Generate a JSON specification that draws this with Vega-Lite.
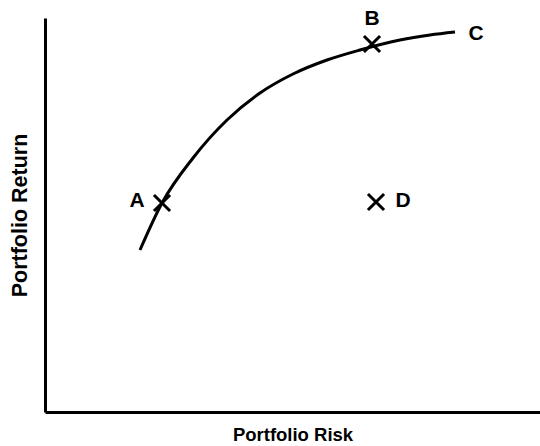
{
  "$schema": "https://vega.github.io/schema/vega-lite/v6.json",
  "width": 495,
  "height": 394,
  "autosize": {"type": "none"},
  "padding": {"left": 45, "top": 18, "right": 0, "bottom": 34},
  "background": "white",
  "config": {
    "view": {"stroke": null},
    "font": "Liberation Sans",
    "axis": {
      "domainColor": "black",
      "domainWidth": 3,
      "ticks": false,
      "labels": false,
      "grid": false,
      "titleFont": "Liberation Sans",
      "titleFontWeight": "bold",
      "titleColor": "black"
    }
  },
  "datasets": {
    "curve": [
      {"x": 95, "y": 162}, {"x": 117, "y": 209}, {"x": 148, "y": 254},
      {"x": 182, "y": 292}, {"x": 215, "y": 319}, {"x": 248, "y": 338},
      {"x": 282, "y": 352}, {"x": 315, "y": 362}, {"x": 355, "y": 372},
      {"x": 385, "y": 377}, {"x": 410, "y": 380}
    ],
    "points": [
      {"name": "A", "x": 117, "y": 209},
      {"name": "B", "x": 327, "y": 368},
      {"name": "D", "x": 331, "y": 210}
    ],
    "labels": [
      {"name": "A", "x": 92, "y": 211},
      {"name": "B", "x": 327, "y": 393},
      {"name": "C", "x": 431, "y": 378},
      {"name": "D", "x": 358, "y": 211}
    ]
  },
  "layer": [
    {
      "data": {"name": "curve"},
      "mark": {"type": "line", "color": "black", "strokeWidth": 3, "interpolate": "monotone"},
      "encoding": {
        "x": {"field": "x", "type": "quantitative", "scale": {"domain": [0, 495], "nice": false, "zero": false}, "axis": {"title": "Portfolio Risk", "titlePadding": 13, "titleFontSize": 18.5}},
        "y": {"field": "y", "type": "quantitative", "scale": {"domain": [0, 394], "nice": false, "zero": false}, "axis": {"title": "Portfolio Return", "titlePadding": 14, "titleFontSize": 21.5}}
      }
    },
    {
      "data": {"name": "points"},
      "mark": {"type": "point", "shape": "M-1,-1L1,1M-1,1L1,-1", "filled": false, "stroke": "black", "strokeWidth": 3, "size": 260, "opacity": 1},
      "encoding": {
        "x": {"field": "x", "type": "quantitative"},
        "y": {"field": "y", "type": "quantitative"}
      }
    },
    {
      "data": {"name": "labels"},
      "mark": {"type": "text", "fontSize": 21, "fontWeight": "bold", "color": "black", "align": "center", "baseline": "middle"},
      "encoding": {
        "x": {"field": "x", "type": "quantitative"},
        "y": {"field": "y", "type": "quantitative"},
        "text": {"field": "name"}
      }
    }
  ]
}
